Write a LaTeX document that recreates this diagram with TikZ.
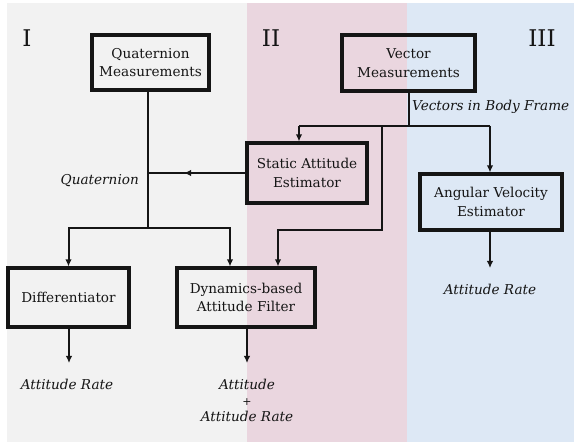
\documentclass[tikz,border=0pt]{standalone}
\usepackage{fontspec}
\setmainfont{DejaVu Serif}
\usetikzlibrary{arrows.meta,decorations.markings}
\definecolor{bgA}{HTML}{F2F2F2}
\definecolor{bgB}{HTML}{EAD6DF}
\definecolor{bgC}{HTML}{DDE8F5}
\definecolor{ink}{HTML}{151515}
\tikzset{
  box/.style={draw=ink,line width=3.2pt,align=center,inner sep=0pt,font=\fontsize{13.6}{18.5}\selectfont,text=ink},
  conn/.style={draw=ink,line width=2pt},
  arr/.style={conn,-{Latex[length=7pt,width=6.5pt]}},
  lbl/.style={font=\fontsize{13.6}{19}\itshape\selectfont,text=ink,inner sep=0pt,align=center},
  roman/.style={font=\fontsize{23}{24}\selectfont,text=ink,inner sep=0pt},
  midarr/.style={postaction={decorate},decoration={markings,mark=at position #1 with {\arrow{Latex[length=7pt,width=6.5pt]}}}}
}
\begin{document}
\begin{tikzpicture}[x=1pt,y=-1pt]
\useasboundingbox (0,0) rectangle (574,443);
\fill[white] (0,0) rectangle (574,443);
\fill[bgA] (7,3) rectangle (247,442);
\fill[bgB] (247,3) rectangle (407,442);
\fill[bgC] (407,3) rectangle (574,442);

\node[roman] (r1) at (27,38) {I};
\node[roman] (r2) at (271,38) {II};
\node[roman] (r3) at (542,38) {III};

\node[box,minimum width=117pt,minimum height=55pt] (qm) at (150.5,62.5) {Quaternion\\Measurements};
\node[box,minimum width=133pt,minimum height=56pt] (vm) at (408.5,63) {Vector\\Measurements};
\node[box,minimum width=120pt,minimum height=60pt] (sae) at (307,173) {Static Attitude\\Estimator};
\node[box,minimum width=142pt,minimum height=56pt] (ave) at (491,202) {Angular Velocity\\Estimator};
\node[box,minimum width=121pt,minimum height=59pt] (diff) at (68.5,297.5) {Differentiator};
\node[box,minimum width=138pt,minimum height=59pt] (dyn) at (246,297.5) {Dynamics-based\\Attitude Filter};

\node[lbl,anchor=east] (lq) at (139,181) {Quaternion};
\node[lbl,anchor=west] (lv) at (412,107) {Vectors in Body Frame};
\node[lbl] (o1) at (67,384) {Attitude Rate};
\node[lbl] (o2) at (247,400) {Attitude\\[-3pt]{\upshape\fontsize{11}{12}\selectfont +}\\[-3pt]Attitude Rate};
\node[lbl] (o3) at (490,289) {Attitude Rate};

% quaternion branch
\coordinate (qj) at (148,228);
\coordinate (dj) at (230,228);
\coordinate (qs) at (148,173);
\draw[conn] (qm.south -| qj) -- (qj);
\draw[arr] (qj) -| (diff.north);
\draw[arr] (qj) -- (dj) -- (dj |- dyn.north);
\draw[conn,midarr=0.63] (sae.west) -- (qs);

% vector branch
\coordinate (vj) at (409,126);
\coordinate (vl) at (299,126);
\coordinate (vr) at (490,126);
\coordinate (vd) at (382,126);
\coordinate (vd2) at (382,230);
\coordinate (vd3) at (278,230);
\draw[conn] (vm.south -| vj) -- (vj);
\draw[conn] (vl) -- (vr);
\draw[arr] (vl) -- (vl |- sae.north);
\draw[arr] (vr) -- (vr |- ave.north);
\draw[arr] (vd) -- (vd2) -- (vd3) -- (vd3 |- dyn.north);

% outputs
\coordinate (e1) at (69,363);
\coordinate (e2) at (247,363);
\coordinate (e3) at (490,268);
\draw[arr] (diff.south -| e1) -- (e1);
\draw[arr] (dyn.south -| e2) -- (e2);
\draw[arr] (ave.south -| e3) -- (e3);
\end{tikzpicture}
\end{document}
